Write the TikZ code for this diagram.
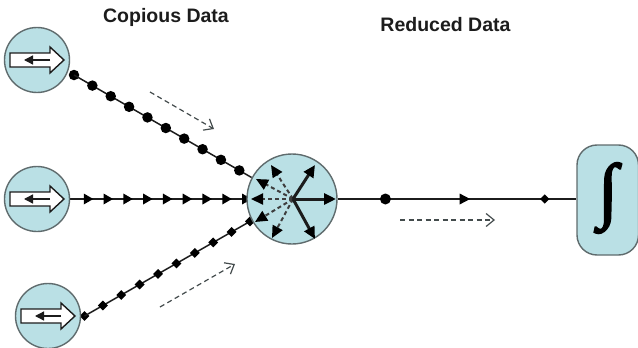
\documentclass[tikz,border=0pt]{standalone}
\usepackage{fontspec}
\setmainfont{Liberation Sans}
\newfontfamily\intfont[FakeBold=2.5]{Liberation Serif}
\usetikzlibrary{arrows.meta,backgrounds}
\definecolor{tealfill}{HTML}{BAE0E5}
\definecolor{edgegray}{HTML}{5F6B6D}
\definecolor{inkdark}{HTML}{1C1C1C}
\tikzset{
  x=1pt,y=-1pt,
  disc/.style={circle,draw=edgegray,line width=1.4pt,fill=tealfill,inner sep=0pt,minimum size=#1},
  titletext/.style={font=\bfseries\fontsize{19.5}{21}\selectfont,text=inkdark,inner sep=0pt},
  wire/.style={draw=inkdark,line width=1.5pt},
  dotmark/.style={circle,fill=black,inner sep=0pt,minimum size=#1},
  diamondmark/.style={fill=black,rotate=45,inner sep=0pt,minimum size=#1},
  flow/.style={draw=edgegray!70!black,line width=1.2pt,dash pattern=on 5pt off 3.5pt,-{Straight Barb[length=8pt,width=13pt,line width=1.2pt]}},
  spokedash/.style={draw=inkdark!85,line width=2pt,dash pattern=on 4pt off 3pt,-{Triangle[length=12pt,width=11pt,color=black]}},
  spokebold/.style={draw=inkdark,line width=3pt,-{Triangle[length=12pt,width=11pt,color=black]}},
  blockarrow/.style={draw=inkdark,line width=1.4pt,fill=white,line join=miter},
  innerarrow/.style={draw=inkdark,line width=1.3pt,-{Triangle[length=9pt,width=9pt]}}
}
\begin{document}
\begin{tikzpicture}
\useasboundingbox (0,0) rectangle (638,348);
\node[titletext] (t1) at (166,17) {Copious Data};
\node[titletext] (t2) at (445.5,25) {Reduced Data};
\node[disc=65pt] (s1) at (37,60) {};
\node[disc=65pt] (s2) at (37,199) {};
\node[disc=65pt] (s3) at (48,316) {};
\node[disc=90pt] (hub) at (292,199) {};
\node[draw=edgegray,line width=1.4pt,fill=tealfill,rounded corners=20pt,minimum width=61.5pt,minimum height=110pt,inner sep=0pt] (int) at (607.75,200) {};
\node[inner sep=0pt,font=\intfont\fontsize{72}{72}\selectfont] (intsym) at (608,198) {∫};
% block arrows in the source discs
\foreach \n/\cx/\cy in {s1/37/60,s2/37/199,s3/48/316}{
  \draw[blockarrow,shift={(\cx,\cy)}] (-27,-7) -- (13,-7) -- (13,-13) -- (27,0) -- (13,13) -- (13,7) -- (-27,7) -- cycle;
  \coordinate (\n a) at (\cx+13,\cy);
  \coordinate (\n b) at (\cx-13,\cy);
  \draw[innerarrow] (\n a) -- (\n b);
}
% connectors
\begin{scope}[on background layer]
\node[dotmark=10.5pt] (d0) at (74,75) {};
\draw[wire] (d0.center) -- (hub.152)
  \foreach \i in {1,...,9}{ node[dotmark=10.5pt,pos={\i*0.1034}] {} };
\draw[wire] (s2.east) -- (hub.west)
  \foreach \i in {0,...,8}{ node[pos={(18.5+20*\i)/178},inner sep=0pt] {\tikz[baseline=-.5ex,x=1pt,y=1pt]\fill[black] (-4.5,-5.5) -- (5,0) -- (-4.5,5.5) -- cycle;} };
\node[diamondmark=7pt] (k0) at (84.5,316) {};
\draw[wire] (k0.center) -- (hub.208)
  \foreach \i in {1,...,9}{ node[diamondmark=7pt,pos={\i*0.11}] {} };
\draw[wire] (hub.east) -- (hub.east -| int.west)
  node[dotmark=11pt,pos=0.2] {}
  node[pos=0.533,inner sep=0pt] {\tikz[baseline=-.5ex,x=1pt,y=1pt]\fill[black] (-5,-5.5) -- (5.5,0) -- (-5,5.5) -- cycle;}
  node[diamondmark=6.5pt,pos=0.868] {};
\end{scope}
% hub spokes
\coordinate (hc) at (293,199);
\foreach \n/\ex/\ey in {a/271/165,b/256/179,c/251/199,d/255/222,e/272/238}{
  \coordinate (sd\n) at (\ex,\ey);
  \draw[spokedash] (hc) -- (sd\n);
}
\foreach \n/\ex/\ey in {a/315/165,b/336/199,c/315/239}{
  \coordinate (sb\n) at (\ex,\ey);
  \draw[spokebold] (hc) -- (sb\n);
}
% flow arrows
\coordinate (f1a) at (150,92); \coordinate (f1b) at (214,129);
\coordinate (f2a) at (400,220); \coordinate (f2b) at (495,220);
\coordinate (f3a) at (160,307); \coordinate (f3b) at (235,264);
\draw[flow] (f1a) -- (f1b);
\draw[flow] (f2a) -- (f2b);
\draw[flow] (f3a) -- (f3b);
\end{tikzpicture}
\end{document}
